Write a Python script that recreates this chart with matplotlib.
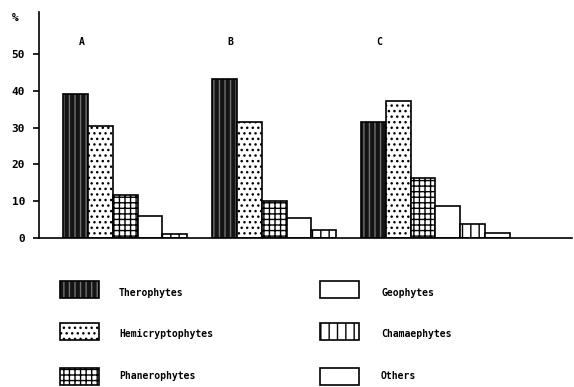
import numpy as np
import matplotlib.pyplot as plt
from matplotlib.patches import Rectangle

# life-form spectra (%) for the three sites
groups = ['A', 'B', 'C']
forms = ['Therophytes', 'Hemicryptophytes', 'Phanerophytes',
         'Geophytes', 'Chamaephytes', 'Others']
vals_A = [39, 30.5, 11.7, 6, 1]
vals_B = [43.2, 31.5, 10, 5.4, 2.2]
vals_C = [31.5, 37.3, 16.3, 8.7, 3.8, 1.4]
yticks = [0, 10, 20, 30, 40, 50]

plt.rcParams['font.family'] = 'DejaVu Sans Mono'
plt.rcParams['font.weight'] = 'bold'
plt.rcParams['hatch.linewidth'] = 1.0

# face, hatch, hatch colour for each life form
style = {
    'Therophytes': ('#141414', '|||', '#707070'),
    'Hemicryptophytes': ('white', '...', 'black'),
    'Phanerophytes': ('white', '+++', 'black'),
    'Geophytes': ('white', '', 'black'),
    'Chamaephytes': ('white', '||', 'black'),
    'Others': ('white', '', 'black'),
}


def draw_box(ax, x, y, w, h, form):
    fc, hatch, hc = style[form]
    ax.add_patch(Rectangle((x, y), w, h, facecolor=fc, hatch=hatch,
                           edgecolor=hc, lw=0))
    ax.add_patch(Rectangle((x, y), w, h, fill=False, edgecolor='black',
                           lw=1.2))


W, H = 574, 387
fig = plt.figure(figsize=(W / 100, H / 100), dpi=100)
ax = fig.add_axes([39 / W, (H - 238) / H, (572 - 39) / W, (238 - 12) / H])

starts = [0, 6, 12]
for g, st, vals in zip(groups, starts, [vals_A, vals_B, vals_C]):
    for i, v in enumerate(vals):
        draw_box(ax, st + i, 0, 1, v, forms[i])
    ax.text(st + 0.75, 53.3, g, fontsize=7, ha='center', va='center')

ax.set_xlim(-0.97, 20.5)
ax.set_ylim(0, 61.4)
ax.spines['top'].set_visible(False)
ax.spines['right'].set_visible(False)
ax.spines['left'].set_linewidth(1.2)
ax.spines['bottom'].set_linewidth(1.2)
ax.set_xticks([])
ax.set_yticks(yticks)
ax.tick_params(axis='y', length=4, width=1.2, labelsize=8, pad=6)
fig.text(15 / W, 1 - 18 / H, '%', fontsize=8, ha='center', va='center')

# legend drawn in pixel coordinates
lg = fig.add_axes([0, 0, 1, 1], zorder=-1)
lg.set_xlim(0, W)
lg.set_ylim(H, 0)
lg.axis('off')
cols = [(60, 119), (320, 381)]
rows = [(281, 293), (323, 334), (368, 376)]
for k, form in enumerate(forms):
    px, tx = cols[k // 3]
    py, ty = rows[k % 3]
    draw_box(lg, px, py, 39, 17, form)
    lg.text(tx, ty, form, fontsize=7, va='center', ha='left')

fig.savefig('out.png', dpi=100)
